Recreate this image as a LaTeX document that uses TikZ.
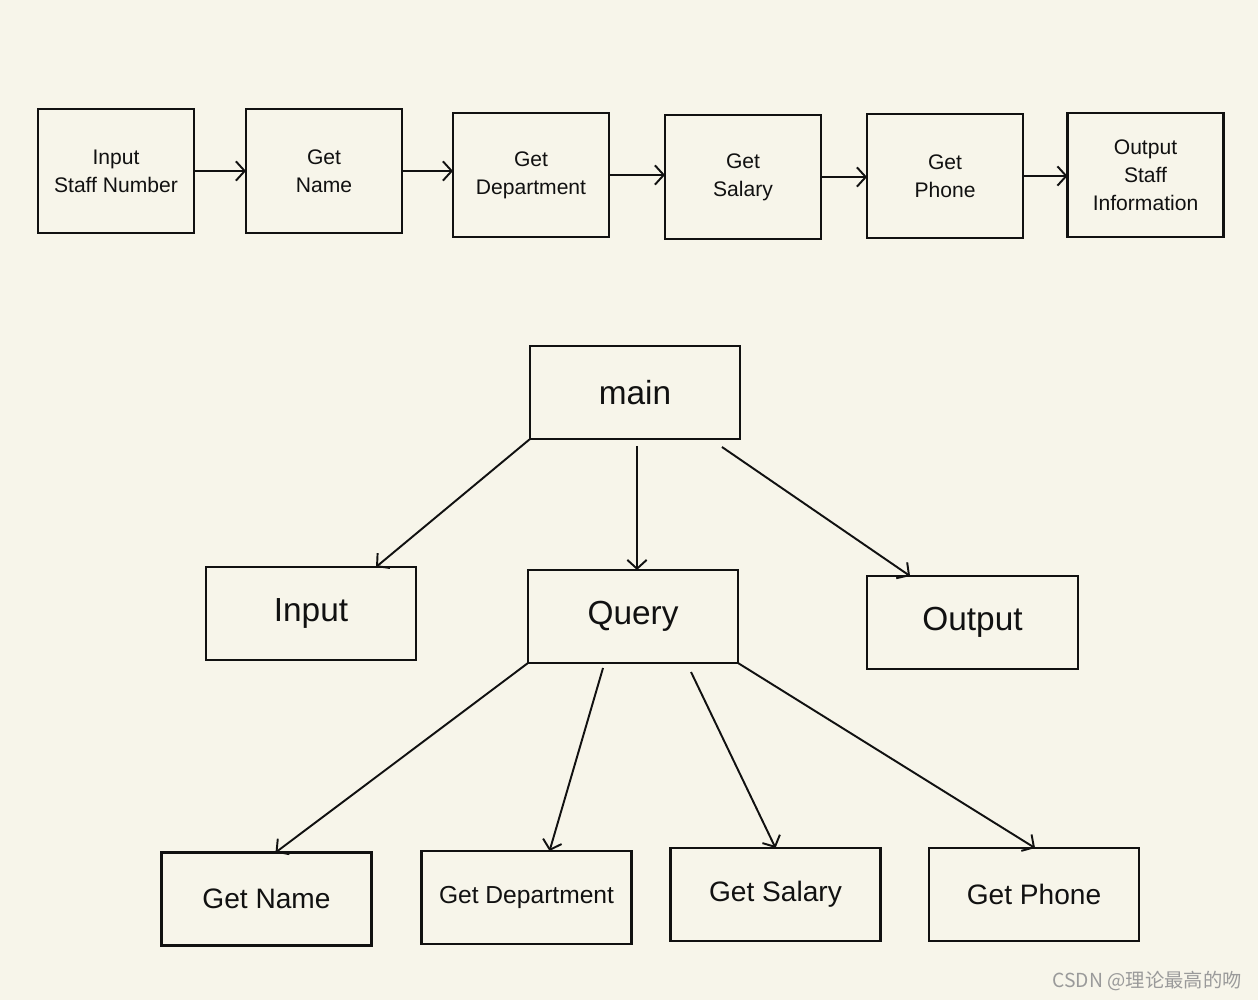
\documentclass[tikz,border=0pt]{standalone}
\usepackage{fontspec}
\setmainfont{Liberation Sans}
\newfontfamily\cjk{Noto Sans CJK SC}
\usetikzlibrary{arrows.meta,calc}
\definecolor{paper}{HTML}{F7F5EA}
\definecolor{ink}{HTML}{111111}
\definecolor{mark}{HTML}{9A9A9A}
\begin{document}
\begin{tikzpicture}[x=0.02cm,y=-0.02cm,
  box/.style={draw=ink,line width=1.2pt,rectangle,inner sep=0pt,outer sep=0pt,align=center,text=ink},
  topbox/.style={box,minimum width=3.12cm,minimum height=2.48cm,font=\fontsize{12}{16}\selectfont},
  midbox/.style={box,minimum width=4.2cm,minimum height=1.86cm,font=\fontsize{19}{22}\selectfont},
  lowbox/.style={box,minimum width=4.2cm,minimum height=1.86cm,font=\fontsize{16}{20}\selectfont},
  conn/.style={draw=ink,line width=1.1pt,-{Straight Barb[length=5pt,width=11pt,line width=1.1pt]}}]
\fill[paper] (0,0) rectangle (1258,1000);
\useasboundingbox (0,0) rectangle (1258,1000);
% top row
\node[topbox] (t1) at (116,171) {Input\\Staff Number};
\node[topbox] (t2) at (324,171) {Get\\Name};
\node[topbox] (t3) at (531,175) {Get\\Department};
\node[topbox] (t4) at (743,177) {Get\\Salary};
\node[topbox] (t5) at (945,176) {Get\\Phone};
\node[topbox] (t6) at (1145.5,175) {Output\\Staff\\Information};
\draw[conn] (t1.east) -- (t1.east -| t2.west);
\draw[conn] (t2.east) -- (t2.east -| t3.west);
\draw[conn] (t3.east) -- (t3.east -| t4.west);
\draw[conn] (t4.east) -- (t4.east -| t5.west);
\draw[conn] (t5.east) -- (t5.east -| t6.west);
% tree
\node[midbox] (main) at (635,392.5) {main};
\node[midbox] (input) at (311,613.5) {Input};
\node[midbox] (query) at (633,616.5) {Query};
\node[midbox,minimum width=4.22cm] (output) at (972.5,622.5) {Output};
\node[lowbox] (gname) at (266.5,899) {Get Name};
\node[lowbox,font=\fontsize{14}{18}\selectfont] (gdept) at (526.5,897.5) {Get Department};
\node[lowbox] (gsal) at (775.5,894.5) {Get Salary};
\node[lowbox] (gphone) at (1034,894.5) {Get Phone};
\draw[conn] (main.south west) -- ($(input.north west)+(170,0)$);
\draw[conn] ($(main.south)+(2,7)$) -- ($(query.north)+(4,0)$);
\draw[conn] ($(main.south east)+(-18,8)$) -- ($(output.north west)+(43,0)$);
\draw[conn] (query.south west) -- ($(gname.north west)+(114,0)$);
\draw[conn] ($(query.south west)+(75,5)$) -- ($(gdept.north west)+(128,0)$);
\draw[conn] ($(query.south west)+(163,9)$) -- ($(gsal.north west)+(105,0)$);
\draw[conn] (query.south east) -- ($(gphone.north west)+(106,0)$);
% watermark
\node[anchor=east,text=mark,font=\cjk\fontsize{11}{13}\selectfont,inner sep=0pt] (wm) at (1242,981) {CSDN @理论最高的吻};
\end{tikzpicture}
\end{document}
